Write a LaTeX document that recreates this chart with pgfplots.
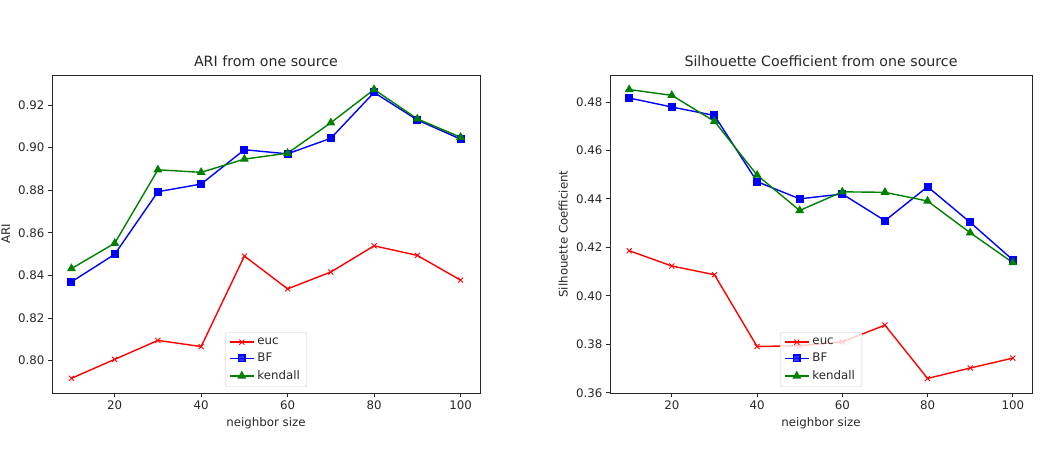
\documentclass[border=0pt]{standalone}
\usepackage{fontspec}
\setmainfont{DejaVu Sans}
\usepackage{pgfplots}
\pgfplotsset{compat=1.18}

\definecolor{mplred}{RGB}{255,0,0}
\definecolor{mplblue}{RGB}{0,0,255}
\definecolor{mplgreen}{RGB}{0,128,0}
\definecolor{inkgray}{RGB}{40,40,40}

\newcommand{\tickfont}{\fontsize{11.8}{13}\selectfont}
\newcommand{\titlefont}{\fontsize{14.2}{16}\selectfont}

\pgfplotsset{
  panel/.style={
    scale only axis,
    anchor=south west,
    height=318pt,
    xmin=5.5, xmax=104.5,
    xtick={20,40,60,80,100},
    tick align=outside,
    xtick pos=bottom, ytick pos=left,
    major tick length=4pt,
    tick style={inkgray, line width=0.8pt},
    axis line style={inkgray, line width=0.8pt},
    every axis plot/.append style={line width=1.4pt},
    tick label style={font=\tickfont, text=inkgray},
    label style={font=\tickfont, text=inkgray},
    title style={font=\titlefont, text=inkgray, yshift=-1.5pt},
    xlabel={neighbor size},
    xlabel style={yshift=-1.5pt},
    /pgf/number format/assume math mode=true,
    yticklabel style={/pgf/number format/.cd, fixed, fixed zerofill, precision=2},
    scaled y ticks=false,
    legend cell align=left,
    legend style={
      at={(0.5,0.019)}, anchor=south,
      font=\tickfont, text=inkgray,
      draw=black!20, rounded corners=2pt,
      fill=white, fill opacity=0.8, text opacity=1, draw opacity=1,
      row sep=0pt, inner xsep=4pt, inner ysep=2pt,
      nodes={inner xsep=3pt, inner ysep=3.6pt},
    },
    legend image code/.code={
      \draw[mark repeat=2, mark phase=2]
        plot coordinates {(0pt,0pt) (12pt,0pt) (24pt,0pt)};
    },
  },
  euc/.style={color=mplred, mark=x, mark size=3.6pt, mark options={line width=0.9pt}},
  bf/.style={color=mplblue, mark=square*, mark size=3.3pt},
  kendall/.style={color=mplgreen, mark=triangle*, mark size=3.8pt},
}

\begin{document}
\begin{tikzpicture}

% ARI
\begin{axis}[panel,
  at={(52pt,55pt)}, width=428pt,
  ymin=0.7848, ymax=0.9341,
  ytick={0.80,0.82,0.84,0.86,0.88,0.90,0.92},
  title={ARI from one source},
  ylabel={ARI},
  ylabel style={at={(axis description cs:-0.108,0.5)}, anchor=center},
]
\addplot[euc] coordinates {
  (10,0.7917) (20,0.8006) (30,0.8095) (40,0.8066) (50,0.8491)
  (60,0.8337) (70,0.8416) (80,0.8539) (90,0.8494) (100,0.8378)};
\addlegendentry{euc}
\addplot[bf] coordinates {
  (10,0.8370) (20,0.8499) (30,0.8793) (40,0.8829) (50,0.8990)
  (60,0.8971) (70,0.9044) (80,0.9259) (90,0.9130) (100,0.9040)};
\addlegendentry{BF}
\addplot[kendall] coordinates {
  (10,0.8432) (20,0.8551) (30,0.8896) (40,0.8884) (50,0.8946)
  (60,0.8974) (70,0.9117) (80,0.9273) (90,0.9135) (100,0.9049)};
\addlegendentry{kendall}
\end{axis}

% Silhouette coefficient
\begin{axis}[panel,
  at={(610pt,55pt)}, width=422pt,
  ymin=0.3599, ymax=0.4911,
  ytick={0.36,0.38,0.40,0.42,0.44,0.46,0.48},
  title={Silhouette Coefficient from one source},
  ylabel={Silhouette Coefficient},
  ylabel style={at={(axis description cs:-0.111,0.5)}, anchor=center},
]
\addplot[euc] coordinates {
  (10,0.4186) (20,0.4123) (30,0.4087) (40,0.3791) (50,0.3794)
  (60,0.3810) (70,0.3879) (80,0.3659) (90,0.3702) (100,0.3743)};
\addlegendentry{euc}
\addplot[bf] coordinates {
  (10,0.4816) (20,0.4779) (30,0.4744) (40,0.4471) (50,0.4400)
  (60,0.4420) (70,0.4310) (80,0.4450) (90,0.4303) (100,0.4148)};
\addlegendentry{BF}
\addplot[kendall] coordinates {
  (10,0.4851) (20,0.4827) (30,0.4720) (40,0.4498) (50,0.4352)
  (60,0.4429) (70,0.4427) (80,0.4391) (90,0.4260) (100,0.4137)};
\addlegendentry{kendall}
\end{axis}

\pgfresetboundingbox
\path (0pt,0pt) rectangle (1048pt,448pt);
\end{tikzpicture}
\end{document}
